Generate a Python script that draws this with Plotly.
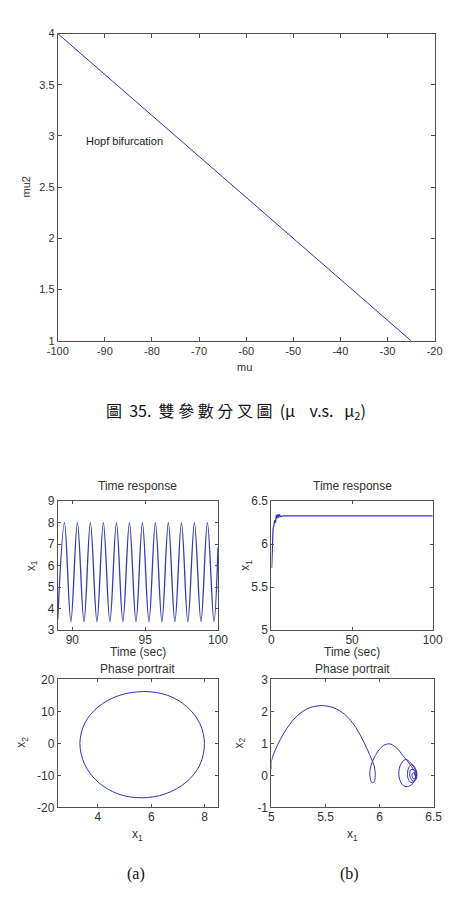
import plotly.graph_objects as go

W, H = 457, 903

# ---------------- data ----------------
# Top: two-parameter bifurcation line (mu vs mu2)
mu_vals = [-100, -25]
mu2_vals = [4.0, 1.0]

# (a) time response: peaks / troughs
ta = [89.00, 89.46, 89.90, 90.35, 90.80, 91.24, 91.69, 92.13, 92.58, 93.03,
      93.47, 93.92, 94.37, 94.81, 95.26, 95.70, 96.15, 96.59, 97.04, 97.49,
      97.93, 98.38, 98.83, 99.27, 99.72, 100.00]
x1a = [3.50, 8.00, 3.40, 8.00, 3.40, 8.00, 3.40, 8.00, 3.40, 8.00,
       3.40, 8.00, 3.40, 8.00, 3.40, 8.00, 3.40, 8.00, 3.40, 8.00,
       3.40, 8.00, 3.40, 8.00, 3.40, 6.85]

# (b) time response
tb = [0.15, 0.5, 1.0, 1.5, 2.0, 2.5, 3.0, 3.5, 4.0, 4.5, 5.0, 6.0, 7.0, 100.0]
x1b = [5.72, 5.95, 6.18, 6.22, 6.28, 6.25, 6.34, 6.30, 6.35, 6.31, 6.34, 6.32, 6.33, 6.33]

# (a) phase portrait (limit cycle)
pa_x1 = [3.33, 3.51, 4.01, 4.77, 5.72, 6.62, 7.33, 7.82, 7.99, 7.82, 7.31,
         6.52, 5.64, 4.76, 4.01, 3.51, 3.33]
pa_x2 = [0.0, 6.3, 11.4, 14.9, 16.2, 15.0, 11.5, 6.2, 0.0, -6.7, -12.1,
         -15.8, -17.0, -15.8, -12.1, -6.6, 0.0]

# (b) phase portrait (spiral to equilibrium)
pb_x1 = [5.00, 5.00, 5.05, 5.12, 5.22, 5.33, 5.45, 5.57, 5.68, 5.78, 5.86,
         5.92, 5.95, 5.96, 5.95, 5.93, 5.91, 5.92, 5.95, 6.00, 6.05, 6.10,
         6.16, 6.22, 6.28, 6.33, 6.32, 6.27, 6.22, 6.18, 6.19, 6.24, 6.29,
         6.34, 6.33, 6.29, 6.26, 6.27, 6.30, 6.34, 6.34, 6.31, 6.28, 6.29,
         6.33, 6.33, 6.31, 6.30, 6.32, 6.325]
pb_x2 = [0.20, 0.45, 0.90, 1.35, 1.80, 2.08, 2.18, 2.12, 1.90, 1.50, 1.00,
         0.55, 0.30, 0.00, -0.20, -0.23, 0.00, 0.30, 0.55, 0.82, 0.96, 0.98,
         0.85, 0.60, 0.35, 0.05, -0.20, -0.34, -0.32, -0.05, 0.30, 0.50, 0.38,
         0.10, -0.15, -0.22, -0.05, 0.25, 0.34, 0.15, -0.10, -0.18, -0.02, 0.18,
         0.15, -0.08, -0.10, 0.05, 0.08, 0.00]

top_x = [-100, -90, -80, -70, -60, -50, -40, -30, -20]
top_y = [1, 1.5, 2, 2.5, 3, 3.5, 4]
ta_x = [90, 95, 100]; ta_y = [3, 4, 5, 6, 7, 8, 9]
tb_x = [0, 50, 100]; tb_y = [5, 5.5, 6, 6.5]
pa_xt = [4, 6, 8]; pa_yt = [-20, -10, 0, 10, 20]
pb_xt = [5, 5.5, 6, 6.5]; pb_yt = [-1, 0, 1, 2, 3]

# ---------------- layout helpers ----------------
def dx(x0, x1):
    return [x0 / W, x1 / W]

def dy(y0, y1):  # y0 top px, y1 bottom px
    return [1 - y1 / H, 1 - y0 / H]

AX = "#505050"
TXT = "#333333"
FONT = "Arial"
BLUE = "#3030b8"

def fmt(v):
    return "%g" % v

def axis(dom, rng, tickvals, size, ticklen, standoff=0):
    return dict(domain=dom, range=rng, tickvals=tickvals,
                ticktext=[fmt(v) for v in tickvals],
                showline=True, linecolor=AX, linewidth=1, mirror="ticks",
                ticks="inside", ticklen=ticklen, tickcolor=AX, tickwidth=1,
                showgrid=False, zeroline=False, fixedrange=True,
                ticklabelstandoff=standoff,
                tickfont=dict(family=FONT, size=size, color=TXT))

fig = go.Figure()

fig.add_trace(go.Scatter(x=mu_vals, y=mu2_vals, mode="lines",
                         line=dict(color=BLUE, width=1), xaxis="x", yaxis="y"))
fig.add_trace(go.Scatter(x=ta, y=x1a, mode="lines",
                         line=dict(color="#3838b0", width=1.3, shape="spline", smoothing=1.0),
                         xaxis="x2", yaxis="y2"))
fig.add_trace(go.Scatter(x=tb, y=x1b, mode="lines",
                         line=dict(color=BLUE, width=1.2), xaxis="x3", yaxis="y3"))
fig.add_trace(go.Scatter(x=pa_x1, y=pa_x2, mode="lines",
                         line=dict(color=BLUE, width=1, shape="spline", smoothing=1.0),
                         xaxis="x4", yaxis="y4"))
fig.add_trace(go.Scatter(x=pb_x1, y=pb_x2, mode="lines",
                         line=dict(color=BLUE, width=1, shape="spline", smoothing=1.0),
                         xaxis="x5", yaxis="y5"))

layout = dict(
    width=W, height=H, margin=dict(l=0, r=0, t=0, b=0),
    paper_bgcolor="white", plot_bgcolor="white", showlegend=False,
    xaxis=axis(dx(49, 444), [-100, -20], top_x, 11, 4),
    yaxis=axis(dy(27, 339), [1, 4], top_y, 11, 4),
    xaxis2=axis(dx(49, 217), [89, 100], ta_x, 12, 3, -2),
    yaxis2=axis(dy(502, 633), [3, 9], ta_y, 12, 3),
    xaxis3=axis(dx(273, 442), [0, 100], tb_x, 12, 3, -2),
    yaxis3=axis(dy(502, 633), [5, 6.5], tb_y, 12, 3),
    xaxis4=axis(dx(49, 217), [2.5, 8.5], pa_xt, 12, 3, -2),
    yaxis4=axis(dy(683, 813), [-20, 20], pa_yt, 12, 3),
    xaxis5=axis(dx(273, 443), [5, 6.5], pb_xt, 12, 3, -2),
    yaxis5=axis(dy(683, 813), [-1, 3], pb_yt, 12, 3),
)
for i in range(1, 6):
    s = "" if i == 1 else str(i)
    layout["xaxis" + s]["anchor"] = "y" + s
    layout["yaxis" + s]["anchor"] = "x" + s
fig.update_layout(**layout)

def ann(text, px, py, size=12, angle=0, family=FONT, color=TXT, xanchor="center", yanchor="middle"):
    fig.add_annotation(text=text, x=px / W, y=1 - py / H, xref="paper", yref="paper",
                       showarrow=False, textangle=angle, xanchor=xanchor, yanchor=yanchor,
                       font=dict(family=family, size=size, color=color))

# Top plot labels
ann("mu", 245, 366, 11)
ann("mu2", 16, 183, 11, angle=-90)
fig.add_annotation(text="Hopf bifurcation", x=-94.4, y=2.95, xref="x", yref="y",
                   showarrow=False, xanchor="left", yanchor="middle",
                   font=dict(family=FONT, size=11, color="#222"))

# Caption
ann("圖  35.  雙 參 數 分 叉 圖  (μ    v.s.   μ<sub>2</sub>)", 236, 410, 16,
    family="Noto Sans CJK TC, Liberation Serif, serif", color="#111")

# Small plot labels
ann("Time response", 133, 487, 12)
ann("Time response", 357.5, 487, 12)
ann("Time (sec)", 133, 655, 12)
ann("Time (sec)", 357.5, 655, 12)
ann("x<sub>1</sub>", 22, 567, 12, angle=-90)
ann("x<sub>1</sub>", 247, 567, 12, angle=-90)
ann("Phase portrait", 133, 672, 12)
ann("Phase portrait", 358, 672, 12)
ann("x<sub>1</sub>", 133, 841, 12)
ann("x<sub>1</sub>", 358, 841, 12)
ann("x<sub>2</sub>", 12, 747, 12, angle=-90)
ann("x<sub>2</sub>", 240, 747, 12, angle=-90)

# Sub-figure labels
ann("(a)", 131, 881, 16, family="Liberation Serif, Times New Roman, serif", color="#111")
ann("(b)", 355, 881, 16, family="Liberation Serif, Times New Roman, serif", color="#111")

fig.write_html("out.html")
